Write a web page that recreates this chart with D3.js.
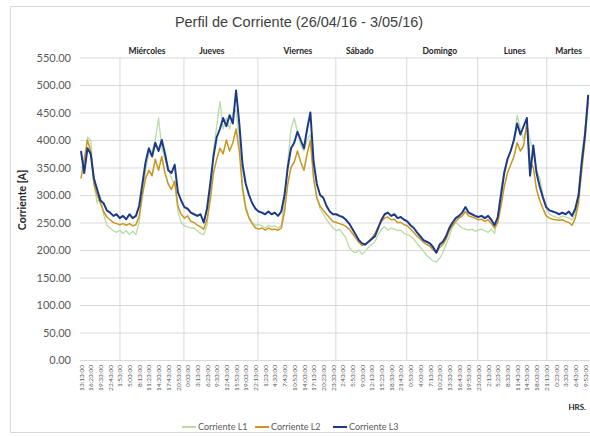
<!DOCTYPE html>
<html>
<head>
<meta charset="utf-8">
<script src="https://cdnjs.cloudflare.com/ajax/libs/d3/7.8.5/d3.min.js"></script>
<style>
  body { margin: 0; background: #fff; }
  svg text { font-family: Lato, "Liberation Sans", sans-serif; }
</style>
</head>
<body>
<div class="container"></div>
<script>
var w = 590;
var h = 437;

// samples: 3 per tick label (190 min between labels)
var stepMin = 190 / 3;

var tickLabels = ["13:13:00","16:23:00","19:33:00","22:43:00","1:53:00","5:03:00","8:13:00","11:23:00",
  "14:33:00","17:43:00","20:53:00","0:03:00","3:13:00","6:23:00","9:33:00","12:43:00","15:53:00",
  "19:03:00","22:13:00","1:23:00","4:33:00","7:43:00","10:53:00","14:03:00","17:13:00","20:23:00",
  "23:33:00","2:43:00","5:53:00","9:03:00","12:13:00","15:23:00","18:33:00","21:43:00","0:53:00",
  "4:03:00","7:13:00","10:23:00","13:33:00","16:43:00","19:53:00","23:03:00","2:13:00","5:23:00",
  "8:33:00","11:43:00","14:53:00","18:03:00","21:13:00","0:23:00","3:33:00","6:43:00","9:53:00"];

var dayNames = ["Miércoles", "Jueves", "Viernes", "Sábado", "Domingo", "Lunes", "Martes"];
// minutes after 13:13 where the day separators were drawn
var dayBreaks = [764, 2018, 3468, 4996, 6386, 7777, 9129];
// minutes after 13:13 where each day name is centred
var dayLabelAt = [1293, 2566, 4250, 5466, 7033, 8502, 9560];

var yTicks = [0, 50, 100, 150, 200, 250, 300, 350, 400, 450, 500, 550];

var seriesNames = ["Corriente L1", "Corriente L2", "Corriente L3"];

var corrienteL1 = [350,355,405,400,320,285,300,265,245,240,235,232,236,230,235,228,234,228,250,300,
  345,375,380,400,440,385,365,350,330,320,270,250,244,242,240,240,235,230,228,245,
  300,380,425,470,420,440,420,450,455,400,320,280,260,250,245,246,244,240,245,242,
  244,240,245,290,360,420,440,415,390,380,400,410,330,295,275,265,255,248,240,235,
  238,230,222,205,198,195,200,192,198,205,210,215,228,238,242,236,240,238,235,236,
  230,228,225,220,212,205,198,190,185,180,178,185,195,210,225,242,250,245,240,238,
  236,238,234,236,238,235,232,238,230,260,310,345,365,380,400,445,420,400,430,400,
  380,345,330,300,275,265,262,260,258,262,260,258,255,265,300,370,420,475];

var corrienteL2 = [330,365,400,380,320,300,285,270,260,255,250,248,246,248,245,248,244,246,262,300,
  330,345,335,365,345,370,340,320,310,325,280,265,258,262,252,250,245,242,238,255,
  290,340,365,385,375,400,380,395,420,380,310,275,258,248,240,238,240,236,240,237,
  238,236,240,270,320,350,360,380,360,345,375,400,330,295,280,272,265,258,252,250,
  248,246,243,238,230,222,214,208,210,215,222,230,242,252,258,260,255,256,250,250,
  246,244,238,232,225,220,214,210,207,200,195,205,210,220,235,245,252,258,262,270,
  262,260,258,255,256,252,255,248,240,250,280,315,340,355,370,395,380,390,430,360,
  350,310,290,275,262,258,256,255,254,255,252,250,245,258,285,345,400,470];

var corrienteL3 = [380,340,385,375,330,310,290,285,272,268,262,265,258,262,256,265,258,262,280,320,
  360,385,370,395,380,400,375,345,340,355,305,290,278,275,268,265,262,265,250,275,
  320,370,405,420,440,425,445,430,490,430,355,320,300,285,275,270,268,265,270,265,
  268,262,270,300,350,385,395,415,400,385,420,450,360,320,300,295,280,270,265,265,
  262,260,255,248,238,228,218,212,210,215,220,225,240,255,265,268,262,265,258,260,
  255,252,245,240,232,225,218,215,212,205,195,210,215,225,240,250,258,262,268,278,
  268,265,262,260,262,258,262,255,245,260,300,340,365,380,400,430,410,425,440,335,
  390,340,315,295,278,272,270,268,265,268,265,270,262,275,300,360,410,482];

var colors = ["#b7dca5", "#c9961f", "#1d3a8a"];
var widths = [1.3, 1.5, 2];

var svg = d3.select(".container").append("svg")
  .attr("width", w)
  .attr("height", h);

// chart border
svg.append("rect")
  .attr("x", 10.5).attr("y", 6.5)
  .attr("width", 600).attr("height", 426)
  .attr("fill", "none").attr("stroke", "#d9d9d9");

var plotLeft = 80, plotRight = 590, plotTop = 57.5, plotBottom = 360;
var x = d3.scaleLinear().domain([0, 9880]).range([81, 585]);
var y = d3.scaleLinear().domain([0, 550]).range([plotBottom, plotTop]);

svg.append("text")
  .attr("x", 299).attr("y", 27)
  .attr("text-anchor", "middle")
  .style("font-family", "'Liberation Sans', Arial, sans-serif")
  .style("font-size", "14.5px")
  .attr("fill", "#404040")
  .text("Perfil de Corriente (26/04/16 - 3/05/16)");

// horizontal grid
svg.append("g")
  .attr("transform", "translate(" + plotLeft + ",0)")
  .call(d3.axisLeft(y).tickValues(yTicks).tickSize(-(plotRight - plotLeft)).tickFormat(""))
  .call(g => g.select(".domain").remove())
  .call(g => g.selectAll("line").attr("stroke", "#d9d9d9"));

// day separators
svg.append("g").selectAll("line").data(dayBreaks).enter().append("line")
  .attr("x1", d => x(d)).attr("x2", d => x(d))
  .attr("y1", plotTop).attr("y2", plotBottom)
  .attr("stroke", "#d9d9d9");

// y labels
svg.append("g")
  .attr("transform", "translate(71,0)")
  .call(d3.axisLeft(y).tickValues(yTicks).tickSize(0).tickFormat(d3.format(".2f")))
  .call(g => g.select(".domain").remove())
  .call(g => g.selectAll("text")
    .attr("x", 0).attr("fill", "#595959")
    .style("font-family", "Lato, sans-serif").style("font-size", "11px"));

svg.append("text")
  .attr("transform", "translate(26,200) rotate(-90)")
  .attr("text-anchor", "middle")
  .style("font-size", "10.5px").style("font-weight", "bold")
  .attr("fill", "#262626")
  .text("Corriente [A]");

// x axis with time labels
svg.append("g")
  .attr("transform", "translate(0," + plotBottom + ")")
  .call(d3.axisBottom(x).tickValues(tickLabels.map((t, i) => i * 190)).tickSize(0)
    .tickFormat((d, i) => tickLabels[i]))
  .call(g => g.select(".domain").attr("stroke", "#d9d9d9"))
  .call(g => g.selectAll("text")
    .attr("transform", "rotate(-90)")
    .attr("x", -5).attr("y", 0).attr("dy", "0.32em")
    .attr("text-anchor", "end")
    .attr("fill", "#595959")
    .style("font-family", "Lato, sans-serif").style("font-size", "6.5px"));

// day names
svg.append("g").selectAll("text").data(dayNames).enter().append("text")
  .attr("x", (d, i) => x(dayLabelAt[i])).attr("y", 54)
  .attr("text-anchor", "middle")
  .style("font-size", "8.5px").style("font-weight", "bold")
  .attr("fill", "#262626")
  .text(d => d);

svg.append("text")
  .attr("x", 586).attr("y", 410)
  .attr("text-anchor", "end")
  .style("font-size", "8px").style("font-weight", "bold")
  .attr("fill", "#262626")
  .text("HRS.");

// lines
svg.append("clipPath").attr("id", "plot")
  .append("rect").attr("x", plotLeft).attr("y", 0).attr("width", plotRight - plotLeft).attr("height", plotBottom);

var line = d3.line()
  .x((d, i) => x(i * stepMin))
  .y(d => y(d));

var series = [corrienteL1, corrienteL2, corrienteL3];
svg.append("g").attr("clip-path", "url(#plot)")
  .selectAll("path").data(series).enter().append("path")
  .attr("d", line)
  .attr("fill", "none")
  .attr("stroke", (d, i) => colors[i])
  .attr("stroke-width", (d, i) => widths[i])
  .attr("stroke-linejoin", "round");

// legend
var legX = [182, 255, 333];
var leg = svg.append("g").selectAll("g").data(seriesNames).enter().append("g")
  .attr("transform", (d, i) => "translate(" + legX[i] + ",427)");
leg.append("line")
  .attr("x1", 0).attr("x2", 14)
  .attr("stroke", (d, i) => colors[i]).attr("stroke-width", 2);
leg.append("text")
  .attr("x", 16).attr("dy", "0.35em")
  .style("font-size", "9px").attr("fill", "#595959")
  .text(d => d);
</script>
</body>
</html>
